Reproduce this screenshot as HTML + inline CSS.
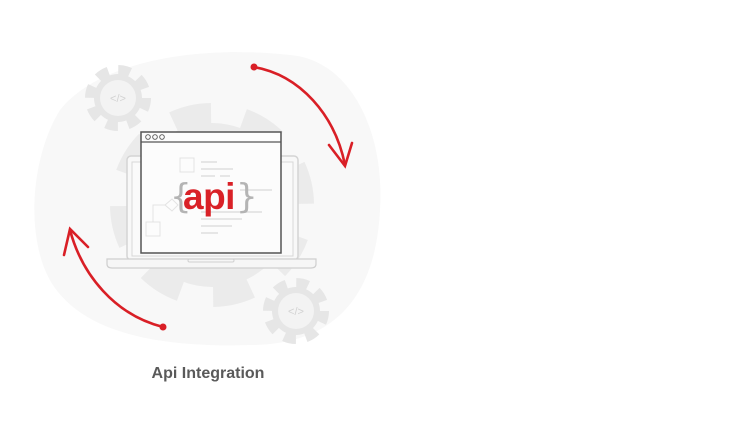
<!DOCTYPE html>
<html><head><style>
html,body{margin:0;padding:0;background:#fff;width:737px;height:424px;overflow:hidden}
</style></head><body>
<svg width="737" height="424" viewBox="0 0 737 424" xmlns="http://www.w3.org/2000/svg">
<path d="M60 110 C100 60 200 45 290 55 C350 60 385 130 380 210 C376 290 340 345 250 345 C150 348 70 330 45 270 C25 220 35 150 60 110 Z" fill="#f8f8f8"/>
<!-- big gear -->
<g fill="#ebebeb">
<circle cx="212" cy="205" r="82"/>
<circle cx="212" cy="205" r="90" fill="none" stroke="#ebebeb" stroke-width="24" stroke-dasharray="38 32.7" transform="rotate(-70 212 205)"/>
</g>
<!-- small gears -->
<g>
<circle cx="118" cy="98" r="24" fill="#e6e6e6"/>
<circle cx="118" cy="98" r="28" fill="none" stroke="#e6e6e6" stroke-width="10" stroke-dasharray="12 10"/>
<circle cx="118" cy="98" r="18" fill="#f3f3f3"/>
<text x="118" y="102" font-family="Liberation Sans,sans-serif" font-size="11" fill="#d2d2d2" text-anchor="middle">&lt;/&gt;</text>
<circle cx="296" cy="311" r="24" fill="#e6e6e6"/>
<circle cx="296" cy="311" r="28" fill="none" stroke="#e6e6e6" stroke-width="10" stroke-dasharray="12 10"/>
<circle cx="296" cy="311" r="18" fill="#f3f3f3"/>
<text x="296" y="315" font-family="Liberation Sans,sans-serif" font-size="11" fill="#d2d2d2" text-anchor="middle">&lt;/&gt;</text>
</g>
<!-- laptop -->
<rect x="127" y="156" width="171" height="104" rx="4" fill="#f8f8f8" stroke="#d4d4d4" stroke-width="1.5"/>
<rect x="132" y="162" width="161" height="94" fill="#fafafa" stroke="#d8d8d8"/>
<path d="M107 259 H316 V264 Q316 268 311 268 H112 Q107 268 107 264 Z" fill="#f6f6f6" stroke="#cfcfcf" stroke-width="1.2"/>
<rect x="188" y="259" width="46" height="3" rx="1.5" fill="none" stroke="#d0d0d0"/>
<!-- window -->
<rect x="141" y="132" width="140" height="121" fill="#fcfcfc" stroke="#555" stroke-width="1.5"/>
<line x1="141" y1="142" x2="281" y2="142" stroke="#555" stroke-width="1.3"/>
<circle cx="148" cy="137" r="2.3" fill="none" stroke="#555" stroke-width="0.9"/>
<circle cx="155" cy="137" r="2.3" fill="none" stroke="#555" stroke-width="0.9"/>
<circle cx="162" cy="137" r="2.3" fill="none" stroke="#555" stroke-width="0.9"/>
<g stroke="#e3e3e3" fill="none">
<rect x="180" y="158" width="14" height="14"/>
<rect x="146" y="222" width="14" height="14"/>
<path d="M153 222 V205 H165 M165 205 L172 199 L178 205 L172 211 Z"/>
</g>
<g stroke="#e6e6e6" stroke-width="2">
<line x1="201" y1="162" x2="217" y2="162"/><line x1="201" y1="169" x2="233" y2="169"/>
<line x1="201" y1="176" x2="215" y2="176"/><line x1="220" y1="176" x2="230" y2="176"/>
<line x1="240" y1="190" x2="272" y2="190"/><line x1="201" y1="212" x2="262" y2="212"/>
<line x1="201" y1="219" x2="242" y2="219"/><line x1="201" y1="226" x2="232" y2="226"/>
<line x1="201" y1="233" x2="218" y2="233"/>
</g>
<text x="170" y="208" font-family="DejaVu Sans,sans-serif" font-size="34" fill="#b4b4b4">{</text>
<text x="183" y="209" font-family="Liberation Sans,sans-serif" font-weight="bold" font-size="37" fill="#d92127" letter-spacing="-0.5">api</text>
<text x="236" y="208" font-family="DejaVu Sans,sans-serif" font-size="34" fill="#b4b4b4">}</text>
<!-- arrows -->
<g stroke="#d91f26" stroke-width="2.6" fill="none" stroke-linecap="round">
<path d="M254 67 C300 75 335 115 345 165"/>
<path d="M329 145 L345 166 L352 143"/>
<path d="M163 327 C115 315 82 275 70 230"/>
<path d="M64 255 L70 229 L88 247"/>
</g>
<circle cx="254" cy="67" r="3.5" fill="#d91f26"/>
<circle cx="163" cy="327" r="3.5" fill="#d91f26"/>
<text x="208" y="378" font-family="Liberation Sans,sans-serif" font-weight="bold" font-size="16" fill="#5a5a5a" text-anchor="middle">Api Integration</text>
</svg>
</body></html>
